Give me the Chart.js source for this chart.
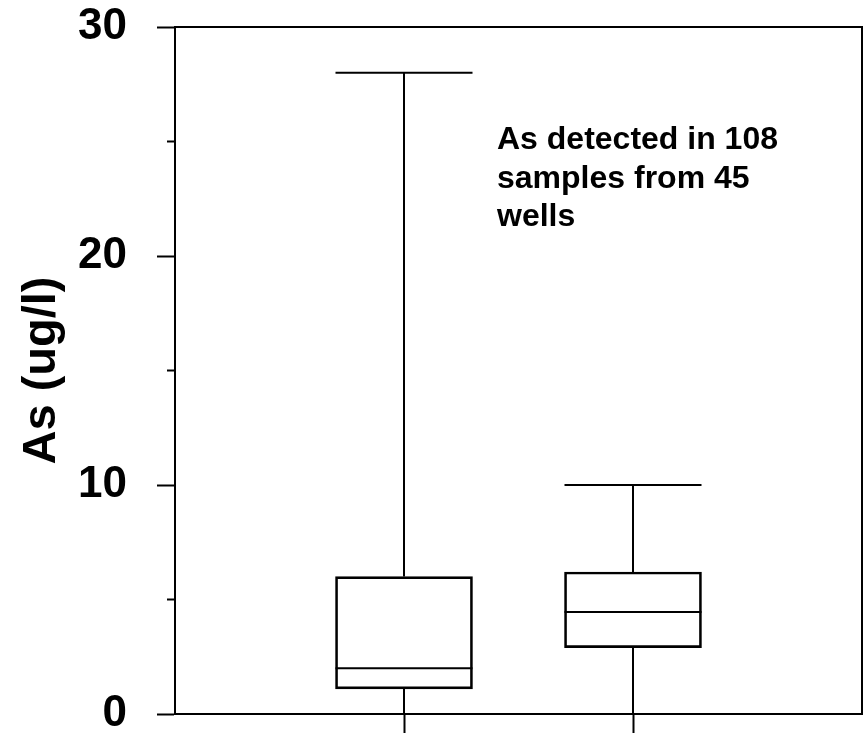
<!DOCTYPE html>
<html>
<head>
<meta charset="utf-8">
<script src="https://cdn.jsdelivr.net/npm/chart.js@4.4.1/dist/chart.umd.min.js"></script>
<style>
  html, body { margin: 0; padding: 0; background: #fff; }
  #wrap { width: 866px; height: 736px; }
</style>
</head>
<body>
<div id="wrap"><canvas id="boxChart"></canvas></div>
<script>
// ===== As (ug/l) box plot =====

// five-number summaries, one entry per group
const groups = ['Set 1', 'Set 2'];
const whiskerLow = [0, 0];
const q1 = [1.1, 2.9];
const median = [2.0, 4.45];
const q3 = [6.0, 6.2];
const whiskerHigh = [28, 10];

const yTicks = [0, 10, 20, 30];
const yMinorTicks = [5, 15, 25];
const noteLines = ['As detected in 108', 'samples from 45', 'wells'];

const FONT = "'Liberation Sans', Arial, sans-serif";

// blank slot on each side keeps the two boxes at 1/3 and 2/3 of the width
const labels = ['', ...groups, ''];
const boxes = [null, ...groups.map((g, i) => [q1[i], q3[i]]), null];

/**
 * whiskers, medians, minor ticks, frame and note
 */
const boxPlot = {
  id: 'boxPlot',
  afterDatasetsDraw(chart) {
    const { ctx, chartArea: a, scales: { x, y } } = chart;
    const meta = chart.getDatasetMeta(0);
    ctx.save();
    ctx.strokeStyle = '#000';
    ctx.lineWidth = 2;
    ctx.lineCap = 'butt';

    const line = (x1, y1, x2, y2) => {
      ctx.beginPath(); ctx.moveTo(x1, y1); ctx.lineTo(x2, y2); ctx.stroke();
    };

    groups.forEach((g, i) => {
      const bar = meta.data[i + 1];
      const cx = x.getPixelForValue(i + 1);
      const half = bar.width / 2;
      const yHi = y.getPixelForValue(whiskerHigh[i]);
      const yLo = y.getPixelForValue(whiskerLow[i]);
      const yMed = y.getPixelForValue(median[i]);
      // stems
      line(cx, y.getPixelForValue(q3[i]), cx, yHi);
      line(cx, y.getPixelForValue(q1[i]), cx, yLo);
      // caps
      line(cx - half, yHi, cx + half, yHi);
      line(cx - half, yLo, cx + half, yLo);
      // median
      line(cx - half, yMed, cx + half, yMed);
    });

    // short minor ticks on the value axis
    yMinorTicks.forEach(v => {
      const py = y.getPixelForValue(v);
      line(a.left - 8, py, a.left, py);
    });

    // closed frame
    ctx.strokeRect(a.left, a.top, a.right - a.left, a.bottom - a.top);

    // note
    ctx.fillStyle = '#000';
    ctx.font = `bold 32px ${FONT}`;
    ctx.textAlign = 'left';
    ctx.textBaseline = 'alphabetic';
    noteLines.forEach((t, k) => ctx.fillText(t, a.left + 322, a.top + 122 + k * 38.5));
    ctx.restore();
  }
};

new Chart(document.getElementById('boxChart'), {
  type: 'bar',
  data: {
    labels: labels,
    datasets: [{
      data: boxes,
      backgroundColor: 'rgba(0,0,0,0)',
      borderColor: '#000',
      borderWidth: 2,
      borderSkipped: false,
      barThickness: 137
    }]
  },
  options: {
    responsive: true,
    maintainAspectRatio: false,
    animation: false,
    layout: { padding: { top: 27, right: 4, left: 0, bottom: 0 } },
    plugins: { legend: { display: false }, tooltip: { enabled: false } },
    scales: {
      x: {
        offset: false,
        grid: {
          offset: false,
          drawOnChartArea: false,
          tickLength: 19,
          tickWidth: 2,
          tickColor: c => (c.index === 0 || c.index === labels.length - 1) ? 'rgba(0,0,0,0)' : '#000'
        },
        border: { color: '#000', width: 2 },
        ticks: { display: false },
        afterFit: s => { s.height = 22; s.paddingLeft = 0; s.paddingRight = 0; }
      },
      y: {
        min: 0,
        max: 30,
        afterBuildTicks: s => { s.ticks = yTicks.map(v => ({ value: v })); },
        grid: { drawOnChartArea: false, tickLength: 18, tickWidth: 2, tickColor: '#000' },
        border: { color: '#000', width: 2 },
        ticks: {
          padding: 30,
          color: '#000',
          font: { family: FONT, size: 44, weight: 'bold' }
        },
        title: {
          display: true,
          text: 'As (ug/l)',
          color: '#000',
          font: { family: FONT, size: 47, weight: 'bold' },
          padding: { top: 14, bottom: 0 }
        },
        afterFit: s => { s.width = 175; s.paddingTop = 0; s.paddingBottom = 0; }
      }
    }
  },
  plugins: [boxPlot]
});
</script>
</body>
</html>
